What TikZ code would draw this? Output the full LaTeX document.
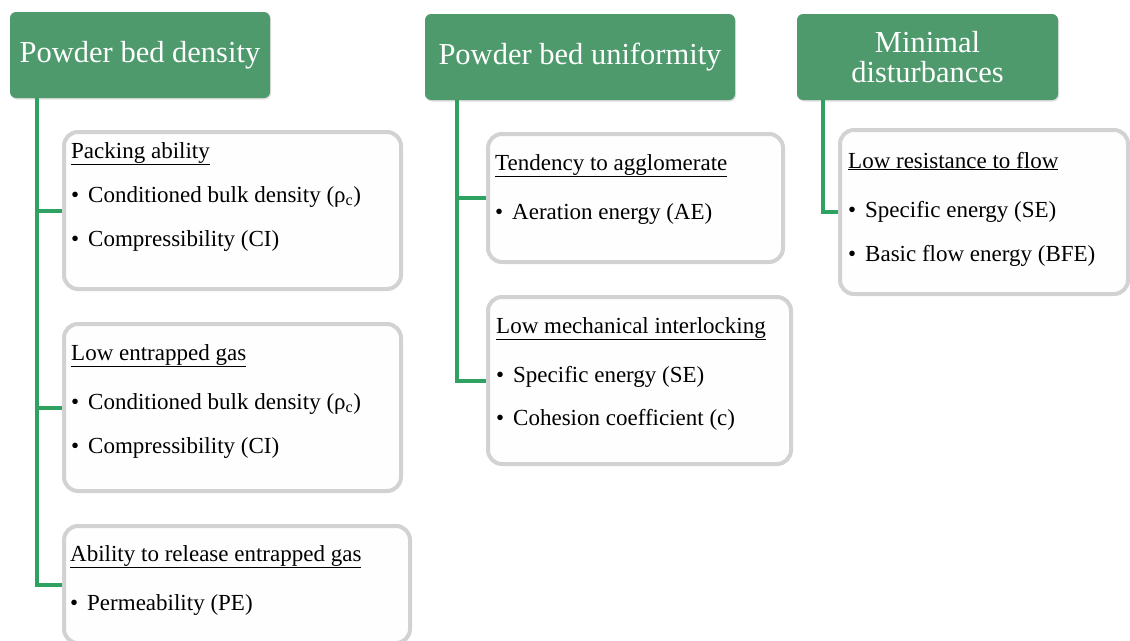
\documentclass[tikz,border=0pt]{standalone}
\usepackage{fontspec}
\setmainfont{Liberation Serif}
\usetikzlibrary{shadows}
\definecolor{hdrgreen}{HTML}{4E9A6D}
\definecolor{lnk}{HTML}{2FA262}
\definecolor{boxgray}{HTML}{D2D2D2}
\tikzset{
  hdr/.style={rectangle, rounded corners=6pt, fill=hdrgreen, draw=none, text=white,
    font=\fontsize{30.5}{31}\selectfont, align=center, inner sep=0pt,
    drop shadow={opacity=0.25, shadow xshift=1pt, shadow yshift=-1.5pt}},
  card/.style={rectangle, rounded corners=14pt, draw=boxgray, line width=4pt, fill=white!99!gray, inner sep=0pt},
  ttl/.style={anchor=base west, inner sep=0pt, font=\fontsize{23}{24}\selectfont},
  itm/.style={anchor=base west, inner sep=0pt, font=\fontsize{23}{24}\selectfont},
  conn/.style={draw=lnk, line width=4pt}
}
\newcommand{\bul}[1]{\hbox to 17pt{\textbullet\hfil}#1}
\newcommand{\ul}[1]{\underline{\smash{#1}}}
\begin{document}
\begin{tikzpicture}[x=1pt,y=-1pt]
\useasboundingbox (0,0) rectangle (1130,640);
% headers
\node[hdr, minimum width=260pt, minimum height=86pt] (h1) at (140,55) {Powder bed density};
\node[hdr, minimum width=310pt, minimum height=86pt] (h2) at (580,57) {Powder bed uniformity};
\node[hdr, minimum width=261pt, minimum height=86pt] (h3) at (927.5,57) {Minimal\\[-1pt]disturbances};
% cards
\node[card, minimum width=337pt, minimum height=157pt] (b1) at (232.5,210.5) {};
\node[card, minimum width=337pt, minimum height=167pt] (b2) at (232.5,407.5) {};
\node[card, minimum width=346pt, minimum height=117pt] (b3) at (237,584.5) {};
\node[card, minimum width=295pt, minimum height=128pt] (b4) at (635.5,198) {};
\node[card, minimum width=303pt, minimum height=167pt] (b5) at (639.5,380.5) {};
\node[card, minimum width=288pt, minimum height=164pt] (b6) at (984,212) {};
% connectors
\coordinate (h1s) at (37,98);
\coordinate (h2s) at (457,100);
\coordinate (h3s) at (823,100);
\draw[conn] (h1s) |- (b1.west);
\draw[conn] (h1s) |- (b2.west);
\draw[conn] (h1s) |- (b3.west);
\draw[conn] (h2s) |- (b4.west);
\draw[conn] (h2s) |- (b5.west);
\draw[conn] (h3s) |- (b6.west);
% texts card 1
\node[ttl] (t1) at (71,158) {\underline{Packing ability}};
\node[itm] (t1a) at (71,202) {\bul{Conditioned bulk density (ρ\textsubscript{c})}};
\node[itm] (t1b) at (71,246) {\bul{Compressibility (CI)}};
% card 2
\node[ttl] (t2) at (71,360) {\underline{Low entrapped gas}};
\node[itm] (t2a) at (71,409) {\bul{Conditioned bulk density (ρ\textsubscript{c})}};
\node[itm] (t2b) at (71,453) {\bul{Compressibility (CI)}};
% card 3
\node[ttl] (t3) at (70,561) {\underline{Ability to release entrapped gas}};
\node[itm] (t3a) at (70,610) {\bul{Permeability (PE)}};
% card 4
\node[ttl] (t4) at (495,170) {\underline{Tendency to agglomerate}};
\node[itm] (t4a) at (495,219) {\bul{Aeration energy (AE)}};
% card 5
\node[ttl] (t5) at (496,333) {\underline{Low mechanical interlocking}};
\node[itm] (t5a) at (496,382) {\bul{Specific energy (SE)}};
\node[itm] (t5b) at (496,425) {\bul{Cohesion coefficient (c)}};
% card 6
\node[ttl] (t6) at (848,168) {\underline{Low resistance to flow}};
\node[itm] (t6a) at (848,217) {\bul{Specific energy (SE)}};
\node[itm] (t6b) at (848,261) {\bul{Basic flow energy (BFE)}};
\end{tikzpicture}
\end{document}
